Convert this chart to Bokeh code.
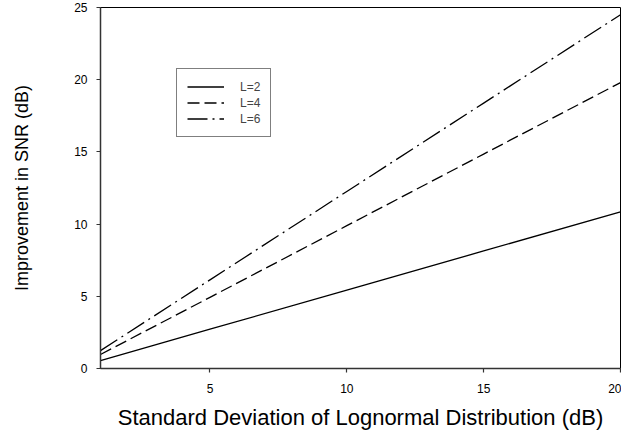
from bokeh.plotting import figure
from bokeh.models import Range1d, FixedTicker, Legend, LegendItem
from bokeh.embed import file_html
from bokeh.resources import INLINE

x_vals = [1, 5, 10, 15, 20]
snr_L2 = [0.55, 2.72, 5.43, 8.14, 10.85]
snr_L4 = [0.97, 4.93, 9.89, 14.85, 19.80]
snr_L6 = [1.24, 6.14, 12.26, 18.38, 24.50]
series_labels = ["L=2", "L=4", "L=6"]
x_ticks = [5, 10, 15, 20]
y_ticks = [0, 5, 10, 15, 20, 25]

FONT = "Liberation Sans"

p = figure(width=621, height=432, output_backend="svg", toolbar_location=None,
           x_range=Range1d(1, 20), y_range=Range1d(0, 25),
           min_border_left=100, min_border_right=1, min_border_top=7, min_border_bottom=63)
p.xgrid.visible = False
p.ygrid.visible = False
p.outline_line_color = "black"
p.outline_line_width = 1
p.background_fill_color = "white"
p.border_fill_color = "white"

r2 = p.line(x_vals, snr_L2, line_color="black", line_width=1.3)
r4 = p.line(x_vals, snr_L4, line_color="black", line_width=1.3, line_dash="12 5")
r6 = p.line(x_vals, snr_L6, line_color="black", line_width=1.3, line_dash="20 5 2 5")

for ax in (p.xaxis[0], p.yaxis[0]):
    ax.axis_line_color = "#333333"
    ax.axis_line_width = 1.5
    ax.major_tick_line_color = "#333333"
    ax.major_tick_line_width = 1.2
    ax.major_tick_out = 4
    ax.major_tick_in = 0
    ax.minor_tick_line_color = None
    ax.major_label_text_font = FONT
    ax.major_label_text_font_size = "12px"
    ax.major_label_text_color = "black"
    ax.axis_label_text_font = FONT
    ax.axis_label_text_font_style = "normal"
    ax.axis_label_text_color = "black"

p.xaxis[0].axis_label_text_font_size = "22px"
p.yaxis[0].axis_label_text_font_size = "18px"
p.xaxis[0].ticker = FixedTicker(ticks=x_ticks)
p.yaxis[0].ticker = FixedTicker(ticks=y_ticks)
p.xaxis[0].axis_label = "Standard Deviation of Lognormal Distribution (dB)"
p.yaxis[0].axis_label = "Improvement in SNR (dB)"
p.xaxis[0].major_label_standoff = 11
p.xaxis[0].axis_label_standoff = 9
p.yaxis[0].major_label_standoff = 9
p.yaxis[0].axis_label_standoff = 39

legend = Legend(items=[LegendItem(label=series_labels[0], renderers=[r2]),
                       LegendItem(label=series_labels[1], renderers=[r4]),
                       LegendItem(label=series_labels[2], renderers=[r6])],
                location=(76, 231))
legend.border_line_color = "black"
legend.border_line_width = 1
legend.background_fill_alpha = 1
legend.label_text_font = FONT
legend.label_text_font_size = "12px"
legend.glyph_width = 37
legend.glyph_height = 15
legend.label_height = 15
legend.label_standoff = 16
legend.spacing = 1
legend.padding = 10
legend.margin = 0
p.add_layout(legend, "center")

open("out.html", "w").write(file_html(p, INLINE))
